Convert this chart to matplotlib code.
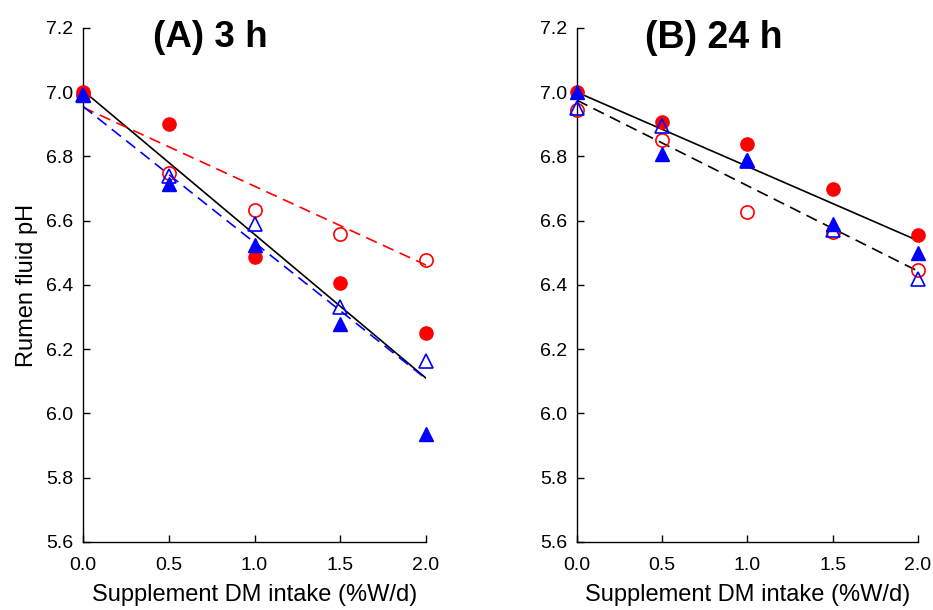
import numpy as np
import matplotlib
matplotlib.use("Agg")
import matplotlib.pyplot as plt

plt.rcParams['font.family'] = ['Liberation Sans', 'DejaVu Sans']

dose = [0.0, 0.5, 1.0, 1.5, 2.0]

# panel A, 3 h
a_red_fill = [7.00, 6.90, 6.487, 6.405, 6.25]
a_red_open = [6.99, 6.748, 6.635, 6.56, 6.477]
a_blue_fill = [6.99, 6.715, 6.525, 6.28, 5.935]
a_blue_open = [6.99, 6.74, 6.59, 6.33, 6.163]
a_fit_black = [7.005, 6.11]
a_fit_red = [6.953, 6.462]
a_fit_blue = [6.956, 6.108]

# panel B, 24 h
b_red_fill = [7.00, 6.907, 6.84, 6.70, 6.555]
b_red_open = [6.946, 6.85, 6.627, 6.565, 6.448]
b_blue_fill = [7.00, 6.808, 6.79, 6.59, 6.50]
b_blue_open = [6.95, 6.895, 6.785, 6.57, 6.42]
b_fit_solid = [7.00, 6.538]
b_fit_dash = [6.975, 6.443]

fit_x = [0.0, 2.0]
yticks = [5.6, 5.8, 6.0, 6.2, 6.4, 6.6, 6.8, 7.0, 7.2]
xticks = [0.0, 0.5, 1.0, 1.5, 2.0]

fig = plt.figure(figsize=(9.33, 6.10), dpi=100)
axA = fig.add_axes([0.089, 0.1115, 0.3676, 0.8426])
axB = fig.add_axes([0.6184, 0.1115, 0.3655, 0.8426])


def points(ax, rf, ro, bf, bo):
    ax.plot(dose, rf, 'o', color='#ff0000', ms=9.5, ls='none', clip_on=False, zorder=3)
    ax.plot(dose, ro, 'o', mfc='none', mec='#ff0000', mew=1.2, ms=9.5, ls='none', clip_on=False, zorder=3)
    ax.plot(dose, bf, '^', color='#0000ff', ms=9.5, ls='none', clip_on=False, zorder=4)
    ax.plot(dose, bo, '^', mfc='none', mec='#0000ff', mew=1.2, ms=9.5, ls='none', clip_on=False, zorder=4)


def style(ax, title, tx, tsize):
    ax.set_xlim(0, 2)
    ax.set_ylim(5.6, 7.2)
    ax.set_xticks(xticks)
    ax.set_yticks(yticks)
    ax.set_xticklabels(['%.1f' % v for v in xticks])
    ax.set_yticklabels(['%.1f' % v for v in yticks])
    for s in ['top', 'right']:
        ax.spines[s].set_visible(False)
    for s in ['left', 'bottom']:
        ax.spines[s].set_linewidth(1.0)
    ax.tick_params(direction='in', length=5, width=1, labelsize=14)
    ax.tick_params(axis='y', pad=7)
    ax.tick_params(axis='x', pad=11)
    ax.set_xlabel('Supplement DM intake (%W/d)', fontsize=17, labelpad=7)
    ax.text(tx, 7.17, title, fontsize=tsize, fontweight='bold', ha='center', va='center')


axA.plot(fit_x, a_fit_black, color='black', lw=1.2, zorder=2)
axA.plot(fit_x, a_fit_red, color='#ff0000', lw=1.2, ls=(0, (7, 4)), zorder=2)
axA.plot(fit_x, a_fit_blue, color='#0000ff', lw=1.2, ls=(0, (7, 4)), zorder=2)
points(axA, a_red_fill, a_red_open, a_blue_fill, a_blue_open)
style(axA, '(A) 3 h', 0.74, 26.5)
axA.set_ylabel('Rumen fluid pH', fontsize=17, labelpad=6)

axB.plot(fit_x, b_fit_solid, color='black', lw=1.2, zorder=2)
axB.plot(fit_x, b_fit_dash, color='black', lw=1.2, ls=(0, (7, 4)), zorder=2)
points(axB, b_red_fill, b_red_open, b_blue_fill, b_blue_open)
style(axB, '(B) 24 h', 0.80, 27)

fig.savefig('out.png', dpi=100)
